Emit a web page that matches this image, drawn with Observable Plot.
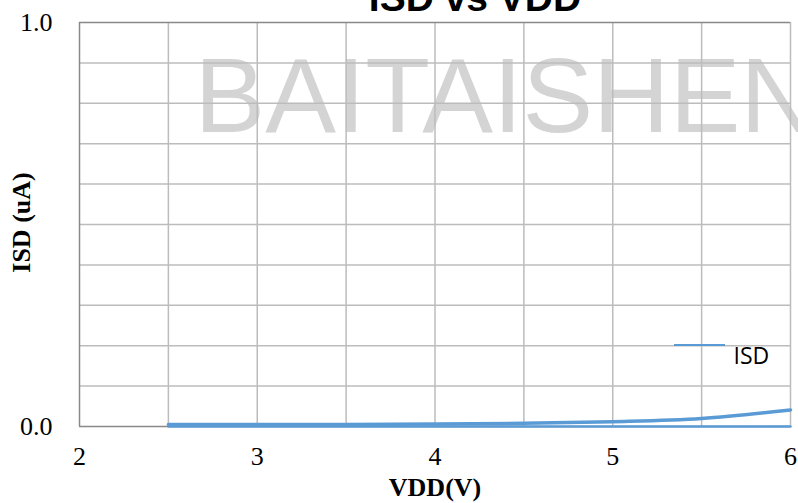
<!DOCTYPE html>
<html><head><meta charset="utf-8">
<script src="https://cdn.jsdelivr.net/npm/d3@7"></script>
<script src="https://cdn.jsdelivr.net/npm/@observablehq/plot@0.6"></script>
<style>
html,body{margin:0;padding:0;background:#fff;}
#wrap{position:relative;width:798px;height:503px;overflow:hidden;background:#fff;}
#wrap svg{display:block;}
#legline{position:absolute;left:674px;top:344px;width:51px;height:2px;background:#5b9bd5;}
</style></head><body><div id="wrap"></div>
<script>
const vdd = [2.5, 3, 3.5, 4, 4.5, 5, 5.5, 6];
const isd = [0.005, 0.005, 0.005, 0.006, 0.008, 0.012, 0.020, 0.041];
const isdBase = [0, 0, 0, 0, 0, 0, 0, 0];
const xTicks = [2, 3, 4, 5, 6];
const yTicks = [0, 1];
const xGrid = [2.5, 3, 3.5, 4, 4.5, 5, 5.5, 6];
const yGrid = [0.1, 0.2, 0.3, 0.4, 0.5, 0.6, 0.7, 0.8, 0.9];
const title = "ISD vs VDD";
const xLabel = "VDD(V)";
const yLabel = "ISD (uA)";
const seriesName = "ISD";
const watermark = "BAITAISHEN";

const curveData = vdd.map((v, i) => ({x: v, y: isd[i]}));
const baseData = vdd.map((v, i) => ({x: v, y: isdBase[i]}));

const blue = "#5b9bd5";
const gridC = "#bcbcbc";
const frameC = "#898989";
const serif = "Liberation Serif, Times New Roman, serif";

const chart = Plot.plot({
  width: 798,
  height: 503,
  marginLeft: 79,
  marginRight: 8,
  marginTop: 22,
  marginBottom: 77,
  style: {background: "#fff", overflow: "hidden"},
  x: {domain: [2, 6]},
  y: {domain: [0, 1]},
  marks: [
    Plot.text([watermark], {text: d => d, frameAnchor: "top-left", textAnchor: "start", lineAnchor: "middle",
      dx: 115, dy: 76, fontSize: 106, fontFamily: "Liberation Sans, Arial, sans-serif", fill: "#d4d4d4"}),
    Plot.ruleX(xGrid, {stroke: gridC, strokeWidth: 1.5}),
    Plot.ruleY(yGrid, {stroke: gridC, strokeWidth: 1.5}),
    Plot.ruleX([2], {stroke: frameC, strokeWidth: 1.5}),
    Plot.ruleY([0, 1], {stroke: frameC, strokeWidth: 1.5}),
    Plot.line(baseData, {x: "x", y: "y", stroke: blue, strokeWidth: 2.5}),
    Plot.line(curveData, {x: "x", y: "y", stroke: blue, strokeWidth: 3.5, curve: "monotone-x"}),
    Plot.axisX(xTicks, {tickSize: 0, tickPadding: 20, fontSize: 26, fontFamily: serif, tickFormat: d => String(d), label: null}),
    Plot.axisY(yTicks, {tickSize: 0, tickPadding: 27, fontSize: 26, fontFamily: serif, tickFormat: d => d.toFixed(1), label: null}),
    Plot.text([xLabel], {text: d => d, frameAnchor: "bottom", lineAnchor: "middle", dy: 61,
      fontSize: 26, fontWeight: "bold", fontFamily: serif}),
    Plot.text([yLabel], {text: d => d, frameAnchor: "left", textAnchor: "middle", lineAnchor: "middle", rotate: -90, dx: -58, dy: -2,
      fontSize: 26, fontWeight: "bold", fontFamily: serif}),
    Plot.text([title], {text: d => d, frameAnchor: "top", lineAnchor: "middle", dx: 40, dy: -24,
      fontSize: 39, fontWeight: "bold", fontFamily: "Liberation Sans, Arial, sans-serif"}),
    Plot.text([seriesName], {text: d => d, frameAnchor: "top-left", textAnchor: "start", lineAnchor: "middle",
      dx: 654, dy: 334, fontSize: 23, fontFamily: "Liberation Sans Narrow, Open Sans, sans-serif"})
  ]
});
const wrap = document.getElementById("wrap");
wrap.appendChild(chart);
const leg = document.createElement("div");
leg.id = "legline";
wrap.appendChild(leg);
</script>
</body></html>
